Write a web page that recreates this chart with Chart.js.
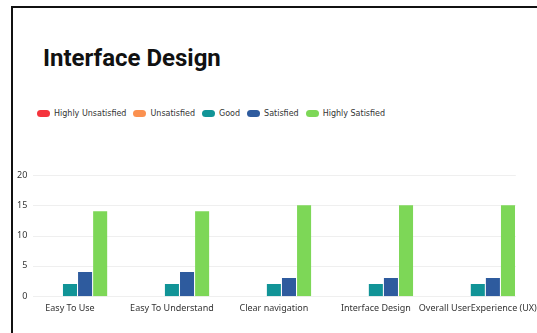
<!DOCTYPE html>
<html>
<head>
<meta charset="utf-8">
<script src="https://cdn.jsdelivr.net/npm/chart.js@4.4.1/dist/chart.umd.min.js"></script>
<style>
	html, body {
		margin: 0;
		padding: 0;
		background: #fff;
		width: 537px;
		height: 333px;
		overflow: hidden;
		font-family: "Noto Sans", sans-serif;
	}
	#frame {
		position: absolute;
		left: 11px;
		top: 6px;
		right: -4px;
		bottom: -4px;
		border-left: 2px solid #111;
		border-top: 2px solid #111;
		pointer-events: none;
	}
	#titulo {
		position: absolute;
		left: 43px;
		top: 46px;
		margin: 0;
		font-family: Roboto, sans-serif;
		font-weight: 700;
		font-size: 24px;
		line-height: 25px;
		color: #111;
	}
	#legenda {
		position: absolute;
		left: 37px;
		top: 107px;
		margin: 0;
		padding: 0;
		list-style: none;
		display: flex;
		font-family: "DejaVu Sans", sans-serif;
		font-size: 8px;
		color: #333;
	}
	#legenda li {
		display: flex;
		align-items: center;
		margin-right: 7px;
		height: 12px;
	}
	#legenda span.caixa {
		display: inline-block;
		width: 13px;
		height: 7px;
		border-radius: 4px;
		margin-right: 4px;
	}
	#grafico {
		position: absolute;
		left: 0;
		top: 160px;
		width: 537px;
		height: 173px;
	}
</style>
</head>
<body>
<h1 id="titulo">Interface Design</h1>
<ul id="legenda"></ul>
<div id="grafico"><canvas id="myChart"></canvas></div>
<div id="frame"></div>

<script>
const categorias = ['Easy To Use', 'Easy To Understand', 'Clear navigation', 'Interface Design', 'Overall UserExperience (UX)'];

const altamenteInsatisfeito = [0, 0, 0, 0, 0];
const insatisfeito = [0, 0, 0, 0, 0];
const bom = [2, 2, 2, 2, 2];
const satisfeito = [4, 4, 3, 3, 3];
const altamenteSatisfeito = [14, 14, 15, 15, 15];

const escalaY = { min: 0, max: 20, passo: 5 };

// legenda feita em html, fora do canvas
const legendaHtml = {
	id: 'legendaHtml',
	afterUpdate(chart) {
		const ul = document.getElementById('legenda');
		ul.innerHTML = '';
		const itens = chart.options.plugins.legend.labels.generateLabels(chart);
		itens.forEach(item => {
			const li = document.createElement('li');
			const caixa = document.createElement('span');
			caixa.className = 'caixa';
			caixa.style.background = item.fillStyle;
			const txt = document.createElement('span');
			txt.textContent = item.text;
			li.appendChild(caixa);
			li.appendChild(txt);
			ul.appendChild(li);
		});
	}
};

// linhas de grade horizontais um pouco recuadas das bordas
const gradeCurta = {
	id: 'gradeCurta',
	beforeDatasetsDraw(chart) {
		const ctx = chart.ctx;
		const area = chart.chartArea;
		const y = chart.scales.y;
		ctx.save();
		ctx.strokeStyle = '#efefef';
		ctx.lineWidth = 1;
		y.ticks.forEach(t => {
			const py = Math.round(y.getPixelForValue(t.value)) + 0.5;
			ctx.beginPath();
			ctx.moveTo(area.left + 14, py);
			ctx.lineTo(area.right - 13, py);
			ctx.stroke();
		});
		ctx.restore();
	}
};

const data = {
	labels: categorias,
	datasets: [
		{ label: 'Highly Unsatisfied', data: altamenteInsatisfeito, backgroundColor: '#f5343c' },
		{ label: 'Unsatisfied', data: insatisfeito, backgroundColor: '#fb9150' },
		{ label: 'Good', data: bom, backgroundColor: '#119497' },
		{ label: 'Satisfied', data: satisfeito, backgroundColor: '#2e5b9e' },
		{ label: 'Highly Satisfied', data: altamenteSatisfeito, backgroundColor: '#7dd757' }
	]
};

const config = {
	type: 'bar',
	data: data,
	options: {
		responsive: true,
		maintainAspectRatio: false,
		animation: false,
		categoryPercentage: 0.74,
		barPercentage: 0.93,
		layout: {
			padding: { top: 15, right: 2, bottom: 19, left: 0 }
		},
		plugins: {
			legend: { display: false },
			tooltip: { enabled: false }
		},
		scales: {
			x: {
				// tickLength so para afastar os rotulos, sem desenhar os tracos
				grid: { display: false, drawTicks: true, tickLength: 7 },
				border: { display: false },
				ticks: {
					color: '#333',
					padding: 0,
					autoSkip: false,
					maxRotation: 0,
					font: { family: 'Noto Sans', size: 9 }
				}
			},
			y: {
				min: escalaY.min,
				max: escalaY.max,
				grid: { display: false, drawTicks: false },
				border: { display: false },
				afterFit: function (scale) {
					scale.width = 19;
				},
				ticks: {
					stepSize: escalaY.passo,
					color: '#333',
					mirror: true,
					crossAlign: 'far',
					padding: -2,
					font: { family: 'Noto Sans', size: 9 }
				}
			}
		}
	},
	plugins: [legendaHtml, gradeCurta]
};

const myChart = new Chart(document.getElementById('myChart'), config);
</script>
</body>
</html>
